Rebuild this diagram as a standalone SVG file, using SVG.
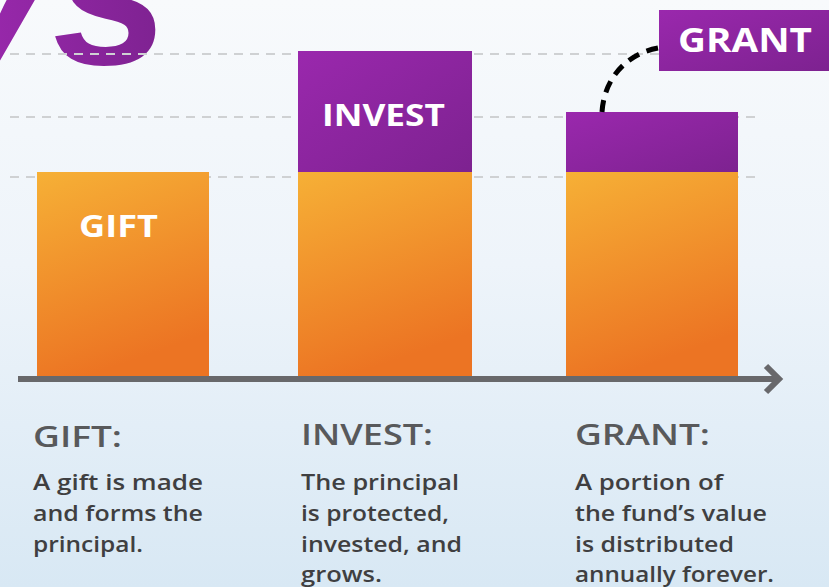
<svg xmlns="http://www.w3.org/2000/svg" width="829" height="587" viewBox="0 0 829 587">
<defs>
<linearGradient id="bg" x1="0" y1="0" x2="0" y2="1">
<stop offset="0" stop-color="#f8fafc"/>
<stop offset="0.45" stop-color="#eef4fa"/>
<stop offset="1" stop-color="#d8e8f4"/>
</linearGradient>
<linearGradient id="org" x1="0" y1="0" x2="0.3" y2="1">
<stop offset="0" stop-color="#f6b036"/>
<stop offset="1" stop-color="#ec7423"/>
</linearGradient>
<linearGradient id="pur" x1="0" y1="0" x2="1" y2="1">
<stop offset="0" stop-color="#9a28ad"/>
<stop offset="1" stop-color="#7d2290"/>
</linearGradient>
<linearGradient id="txt" x1="0" y1="0" x2="1" y2="0">
<stop offset="0" stop-color="#a12ab4"/>
<stop offset="1" stop-color="#7d2290"/>
</linearGradient>
</defs>
<style>
.grid{stroke:#cfd1d3;stroke-width:2;stroke-dasharray:9 7;fill:none}
.w{fill:#fff;font-family:"Open Sans","Liberation Sans",sans-serif;font-weight:700}
.h{fill:#58595b;font-family:"Open Sans","Liberation Sans",sans-serif;font-weight:600;font-size:29px}
.b{fill:#3f3f41;font-family:"Open Sans","Liberation Sans",sans-serif;font-weight:600;font-size:22px}
</style>
<rect width="829" height="587" fill="url(#bg)"/>
<text x="-64" y="64" font-family="Liberation Sans, sans-serif" font-weight="700" font-style="italic" font-size="210" fill="url(#txt)">ys</text>
<g id="gridlines">
<line class="grid" x1="10" y1="54" x2="762" y2="54"/>
<line class="grid" x1="10" y1="117" x2="762" y2="117"/>
<line class="grid" x1="10" y1="177" x2="762" y2="177"/>
</g>
<g id="gift">
<rect x="37" y="172" width="172" height="204" fill="url(#org)"/>
<text class="w" x="79" y="237" font-size="31" textLength="79" lengthAdjust="spacingAndGlyphs">GIFT</text>
</g>
<g id="invest">
<rect x="298" y="172" width="174" height="204" fill="url(#org)"/>
<rect x="298" y="51" width="174" height="121" fill="url(#pur)"/>
<text class="w" x="322" y="126" font-size="31" textLength="123" lengthAdjust="spacingAndGlyphs">INVEST</text>
</g>
<g id="grant">
<rect x="566" y="172" width="172" height="204" fill="url(#org)"/>
<rect x="566" y="112" width="172" height="60" fill="url(#pur)"/>
</g>
<g id="grant-label">
<rect x="659" y="10" width="170" height="61" fill="url(#pur)"/>
<text class="w" x="678" y="52" font-size="34" textLength="134" lengthAdjust="spacingAndGlyphs">GRANT</text>
</g>
<g id="connectors">
<path d="M602 112 C604 80 625 54 658 48" fill="none" stroke="#000" stroke-width="5" stroke-dasharray="12 8"/>
<line x1="18" y1="379" x2="778" y2="379" stroke="#68686b" stroke-width="6"/>
<polyline points="766,366 779,379 766,392" fill="none" stroke="#68686b" stroke-width="6"/>
</g>
<g id="desc-gift">
<text class="h" x="33" y="447" textLength="89" lengthAdjust="spacingAndGlyphs">GIFT:</text>
<text class="b" x="33" y="490" textLength="170" lengthAdjust="spacingAndGlyphs">A gift is made</text>
<text class="b" x="33" y="521" textLength="170" lengthAdjust="spacingAndGlyphs">and forms the</text>
<text class="b" x="33" y="552" textLength="110" lengthAdjust="spacingAndGlyphs">principal.</text>
</g>
<g id="desc-invest">
<text class="h" x="301" y="445" textLength="132" lengthAdjust="spacingAndGlyphs">INVEST:</text>
<text class="b" x="301" y="490" textLength="158" lengthAdjust="spacingAndGlyphs">The principal</text>
<text class="b" x="301" y="521" textLength="148" lengthAdjust="spacingAndGlyphs">is protected,</text>
<text class="b" x="301" y="552" textLength="161" lengthAdjust="spacingAndGlyphs">invested, and</text>
<text class="b" x="301" y="582" textLength="81" lengthAdjust="spacingAndGlyphs">grows.</text>
</g>
<g id="desc-grant">
<text class="h" x="575" y="445" textLength="135" lengthAdjust="spacingAndGlyphs">GRANT:</text>
<text class="b" x="575" y="490" textLength="148" lengthAdjust="spacingAndGlyphs">A portion of</text>
<text class="b" x="575" y="521" textLength="192" lengthAdjust="spacingAndGlyphs">the fund’s value</text>
<text class="b" x="575" y="552" textLength="159" lengthAdjust="spacingAndGlyphs">is distributed</text>
<text class="b" x="575" y="582" textLength="199" lengthAdjust="spacingAndGlyphs">annually forever.</text>
</g>
</svg>
